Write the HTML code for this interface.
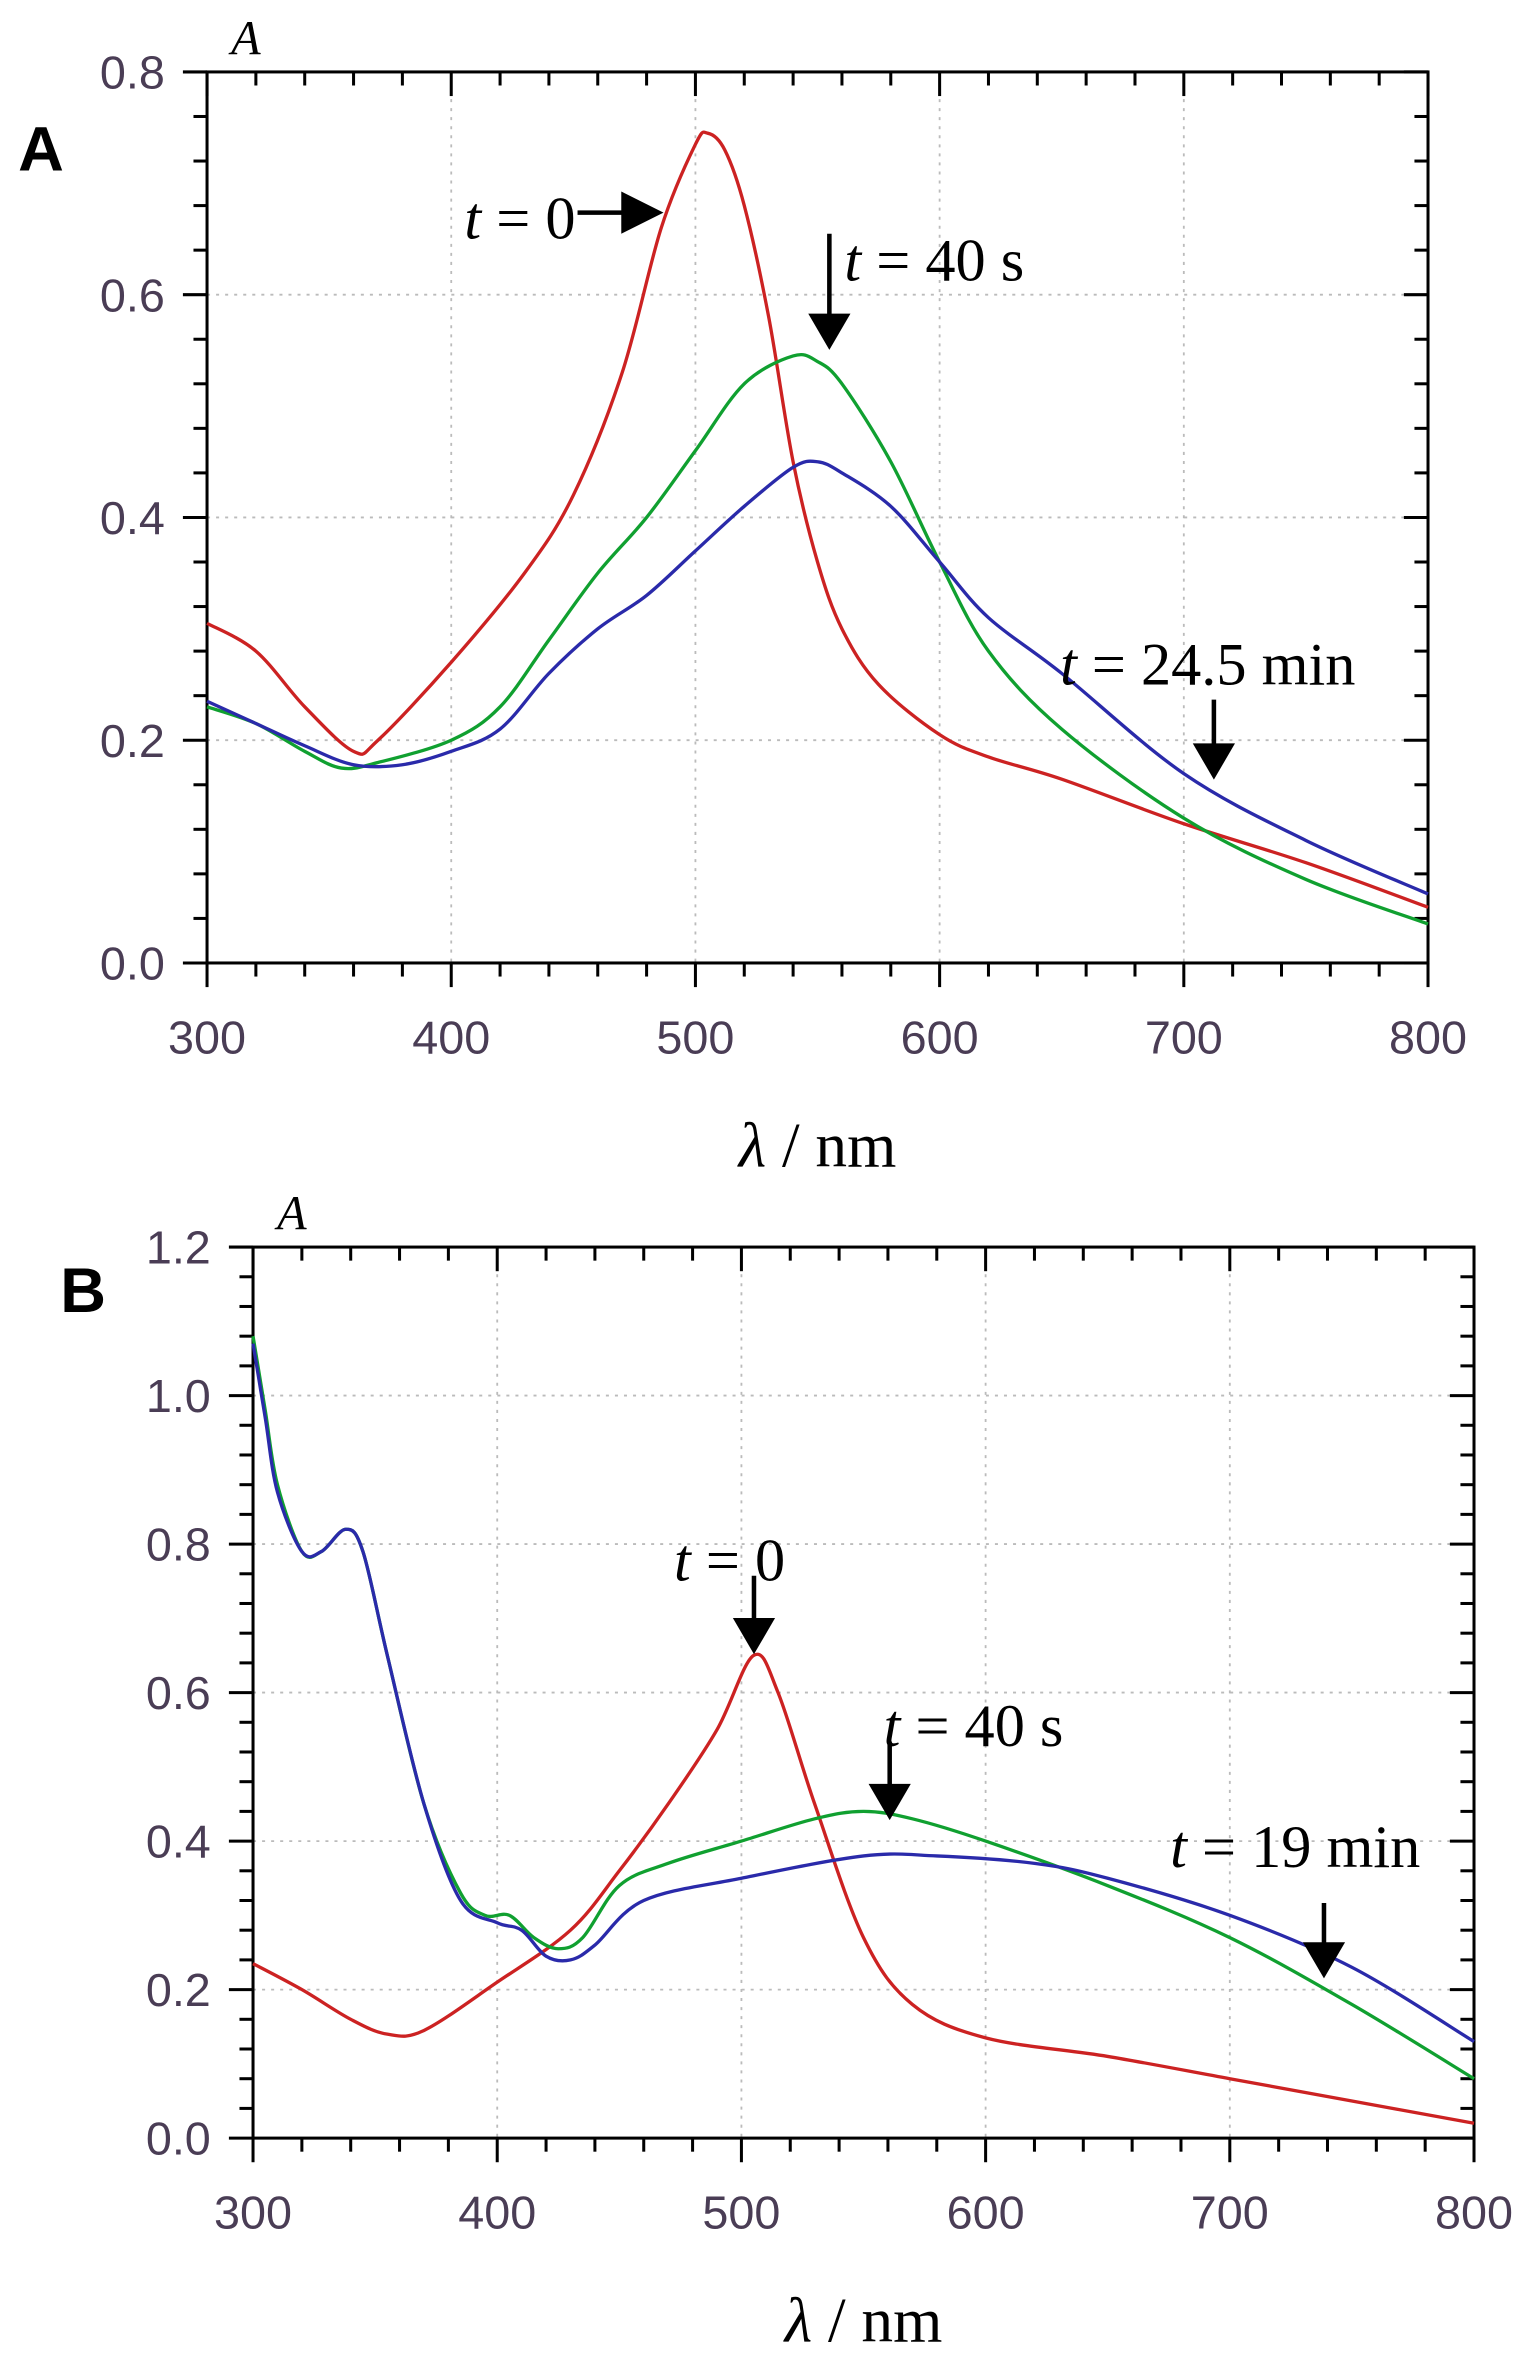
<!DOCTYPE html>
<html><head><meta charset="utf-8"><style>
html,body{margin:0;padding:0;background:#fff;}
svg{display:block;}
.tick{font-family:"Liberation Sans",sans-serif;font-size:31px;fill:#4a3d55;}
.serif{font-family:"Liberation Serif",serif;fill:#000;}
</style></head><body>
<svg id="chart" width="1520" height="2364" viewBox="0 0 1008 1567.7" xmlns="http://www.w3.org/2000/svg">
<text x="12" y="113" font-family="Liberation Sans,sans-serif" font-weight="bold" font-size="42">A</text>
<text x="40" y="870" font-family="Liberation Sans,sans-serif" font-weight="bold" font-size="42">B</text>
</svg>
<script>
const wavesA_red=[300,320,340,360,370,400,430,450,470,486,500,505,512,520,530,540,550,560,575,600,620,650,700,750,800];
const absA_red=[0.305,0.28,0.23,0.19,0.20,0.27,0.35,0.42,0.53,0.66,0.735,0.745,0.73,0.68,0.58,0.45,0.36,0.30,0.25,0.205,0.185,0.165,0.125,0.09,0.05];
const wavesA_green=[300,320,340,355,370,400,420,440,460,480,500,520,540,550,560,580,600,620,650,700,750,800];
const absA_green=[0.23,0.215,0.19,0.175,0.18,0.20,0.23,0.29,0.35,0.40,0.46,0.52,0.545,0.54,0.52,0.45,0.36,0.28,0.21,0.13,0.075,0.035];
const wavesA_blue=[300,320,340,360,380,400,420,440,460,480,500,520,540,550,560,580,600,620,650,700,750,800];
const absA_blue=[0.235,0.215,0.195,0.178,0.178,0.19,0.21,0.26,0.30,0.33,0.37,0.41,0.445,0.45,0.44,0.41,0.36,0.31,0.26,0.17,0.11,0.062];
const wavesB_red=[300,320,340,355,370,400,430,450,470,490,505,515,530,550,570,600,650,700,750,800];
const absB_red=[0.235,0.2,0.16,0.14,0.145,0.21,0.28,0.36,0.45,0.55,0.65,0.6,0.45,0.27,0.18,0.135,0.11,0.08,0.05,0.02];
const wavesB_green=[300,305,310,320,328,338,345,355,370,385,395,405,415,425,435,450,470,500,530,550,570,600,650,700,750,800];
const absB_green=[1.08,0.98,0.88,0.79,0.79,0.82,0.79,0.65,0.45,0.33,0.30,0.30,0.27,0.255,0.27,0.34,0.37,0.40,0.43,0.44,0.43,0.40,0.34,0.27,0.18,0.08];
const wavesB_blue=[300,305,310,320,328,338,345,355,370,385,400,410,420,430,440,460,500,550,580,620,650,700,750,800];
const absB_blue=[1.07,0.97,0.87,0.79,0.79,0.82,0.79,0.65,0.45,0.32,0.29,0.28,0.245,0.24,0.26,0.32,0.35,0.38,0.38,0.37,0.35,0.30,0.23,0.13];
const xTicks=[300,400,500,600,700,800];
const yTicksA=[0,0.2,0.4,0.6,0.8];
const yTicksB=[0,0.2,0.4,0.6,0.8,1.0,1.2];

const svg=document.getElementById('chart');
const NS='http://www.w3.org/2000/svg';
function mk(tag,attrs){const e=document.createElementNS(NS,tag);for(const k in attrs)e.setAttribute(k,attrs[k]);svg.appendChild(e);return e;}
function panel(p){
  const X=v=>p.x0+(v-300)/500*(p.x1-p.x0);
  const Y=v=>p.y1-(v/p.ymax)*(p.y1-p.y0);
  xTicks.forEach(t=>{if(t>300&&t<800){const g=mk('line',{x1:X(t),x2:X(t),y1:p.y0,y2:p.y1,stroke:'#bbb','stroke-dasharray':'2,4','stroke-width':1.2});
    }});
  p.yt.forEach(t=>{if(t>0&&t<p.ymax){const g=mk('line',{x1:p.x0,x2:p.x1,y1:Y(t),y2:Y(t),stroke:'#bbb','stroke-dasharray':'2,4','stroke-width':1.2});
    }});
  const fr=mk('rect',{x:p.x0,y:p.y0,width:p.x1-p.x0,height:p.y1-p.y0,fill:'none',stroke:'#000','stroke-width':2});
  
  for(let v=300;v<=800;v+=20){const maj=v%100===0;
    mk('line',{x1:X(v),x2:X(v),y1:p.y1,y2:p.y1+(maj?16:9),stroke:'#000','stroke-width':2});
    mk('line',{x1:X(v),x2:X(v),y1:p.y0,y2:p.y0+(maj?16:9),stroke:'#000','stroke-width':2});}
  const step=0.04;
  for(let i=0;i<=Math.round(p.ymax/step);i++){const v=i*step;const maj=Math.abs(v/0.2-Math.round(v/0.2))<1e-6;
    mk('line',{x1:p.x0,x2:p.x0-(maj?16:9),y1:Y(v),y2:Y(v),stroke:'#000','stroke-width':2});
    mk('line',{x1:p.x1,x2:p.x1-(maj?16:9),y1:Y(v),y2:Y(v),stroke:'#000','stroke-width':2});}
  xTicks.forEach(t=>{const e=mk('text',{x:X(t),y:p.y1+60,'text-anchor':'middle',class:'tick'});e.textContent=t;
    });
  p.yt.forEach(t=>{const e=mk('text',{x:p.x0-28,y:Y(t)+11,'text-anchor':'end',class:'tick'});e.textContent=t.toFixed(1);
    });
  const yt=mk('text',{x:p.x0+16,y:p.y0-12,class:'serif','font-style':'italic','font-size':32});yt.textContent='A';
  
  const xt=mk('text',{x:(p.x0+p.x1)/2,y:p.y1+135,'text-anchor':'middle',class:'serif','font-size':42});
  xt.innerHTML='<tspan font-style="italic">λ</tspan> / nm';
  
  p.series.forEach(s=>{
    const pts=s.w.map((w,i)=>[X(w),Y(s.a[i])]);
    let d='M'+pts[0][0]+','+pts[0][1];
    for(let i=0;i<pts.length-1;i++){const p0=pts[Math.max(0,i-1)],p1=pts[i],p2=pts[i+1],p3=pts[Math.min(pts.length-1,i+2)];
      d+=` C${p1[0]+(p2[0]-p0[0])/6},${p1[1]+(p2[1]-p0[1])/6} ${p2[0]-(p3[0]-p1[0])/6},${p2[1]-(p3[1]-p1[1])/6} ${p2[0]},${p2[1]}`;}
    const e=mk('path',{d:d,fill:'none',stroke:s.c,'stroke-width':2.2});
    
  });
}
panel({x0:137.3,x1:947,y0:47.7,y1:638.6,ymax:0.8,yt:yTicksA,series:[
  {w:wavesA_red,a:absA_red,c:'#cc2222',n:'series-a-t0'},
  {w:wavesA_green,a:absA_green,c:'#10a030',n:'series-a-t40s'},
  {w:wavesA_blue,a:absA_blue,c:'#2a2aaa',n:'series-a-t24min'}]});
panel({x0:167.8,x1:977.5,y0:827,y1:1417.9,ymax:1.2,yt:yTicksB,series:[
  {w:wavesB_red,a:absB_red,c:'#cc2222',n:'series-b-t0'},
  {w:wavesB_green,a:absB_green,c:'#10a030',n:'series-b-t40s'},
  {w:wavesB_blue,a:absB_blue,c:'#2a2aaa',n:'series-b-t19min'}]});
function label(x,y,rest,name){const e=mk('text',{x:x,y:y,class:'serif','font-size':40});
  e.innerHTML='<tspan font-style="italic">t</tspan> = '+rest;
  }
function arrowDown(x,y1,y2,name){const g=mk('g',{});
  
  const l=document.createElementNS(NS,'line');l.setAttribute('x1',x);l.setAttribute('x2',x);l.setAttribute('y1',y1);l.setAttribute('y2',y2-20);l.setAttribute('stroke','#000');l.setAttribute('stroke-width',3);g.appendChild(l);
  const t=document.createElementNS(NS,'polygon');t.setAttribute('points',`${x-14},${y2-24} ${x+14},${y2-24} ${x},${y2}`);g.appendChild(t);}
label(308,158,'0','label-a-t0');
(function(){const g=mk('g',{});
 const l=document.createElementNS(NS,'line');l.setAttribute('x1',383);l.setAttribute('x2',415);l.setAttribute('y1',141);l.setAttribute('y2',141);l.setAttribute('stroke','#000');l.setAttribute('stroke-width',3);g.appendChild(l);
 const t=document.createElementNS(NS,'polygon');t.setAttribute('points','412,127 412,155 440,141');g.appendChild(t);})();
label(560,186,'40 s','label-a-t40s');
arrowDown(550,155,232,'arrow-a-t40s');
label(703,454,'24.5 min','label-a-t24min');
arrowDown(805,464,517,'arrow-a-t24min');
label(447,1048,'0','label-b-t0');
arrowDown(500,1045,1097,'arrow-b-t0');
label(586,1158,'40 s','label-b-t40s');
arrowDown(590,1155,1207,'arrow-b-t40s');
label(776,1238,'19 min','label-b-t19min');
arrowDown(878,1262,1312,'arrow-b-t19min');
</script>
</body></html>
